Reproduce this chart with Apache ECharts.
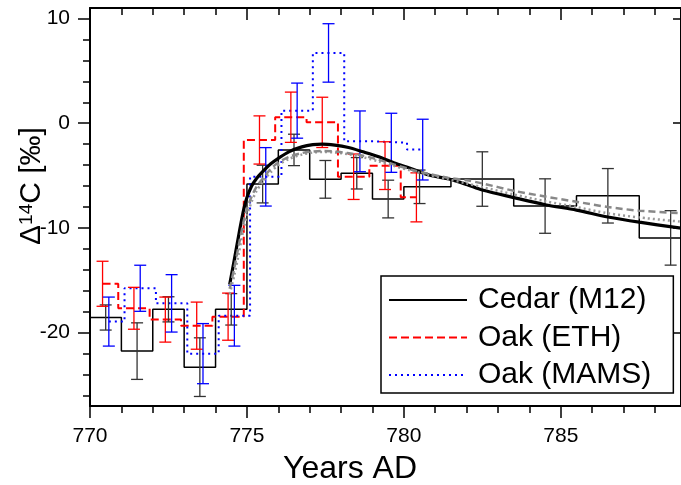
<!DOCTYPE html>
<html><head><meta charset="utf-8">
<script src="https://cdn.jsdelivr.net/npm/echarts@6/dist/echarts.min.js"></script>
<style>html,body{margin:0;padding:0;background:#fff}#c{width:681px;height:485px}</style>
</head><body><div id="c"></div>
<script>
// ---- data ----
const cedarYears = [770.5, 771.5, 772.5, 773.5, 774.5, 775.5, 776.5, 777.5, 778.5, 779.5, 780.5, 782.5, 784.5, 786.5, 788.5];
const cedarVals  = [-18.55, -21.76, -17.77, -23.29, -17.77, -5.81, -2.55, -5.36, -4.78, -7.24, -6.07, -5.33, -7.91, -6.93, -10.95];
const cedarErr   = [1.2, 2.7, 1.2, 2.8, 1.5, 1.8, 1.5, 1.8, 1.5, 1.8, 1.6, 2.6, 2.6, 2.6, 2.6];

const ethYears = [770.4, 771.4, 772.4, 773.4, 774.4, 775.4, 776.4, 777.4, 778.4, 779.4, 780.4];
const ethVals  = [-15.33, -17.67, -18.75, -19.33, -18.47, -1.6, 0.57, 0.08, -5.11, -4.05, -7.08];
const ethErr   = [2.15, 2.0, 2.15, 2.25, 2.25, 2.3, 2.4, 2.4, 2.17, 2.28, 2.34];

const mamsYears = [770.6, 771.6, 772.6, 773.6, 774.6, 775.6, 776.6, 777.6, 778.6, 779.6, 780.6];
const mamsVals  = [-18.94, -15.76, -17.2, -22.0, -18.38, -5.12, 1.2, 6.71, -1.73, -1.87, -2.52];
const mamsErr   = [2.34, 2.2, 2.74, 2.87, 2.9, 2.79, 2.63, 2.79, 2.9, 2.82, 2.9];

const modelYears  = [774.45, 774.6, 774.75, 774.9, 775.0, 775.15, 775.3, 775.5, 775.75, 776.0, 776.35, 776.75, 777.1, 777.4, 777.8, 778.2, 778.7, 779.2, 779.7, 780.2, 780.8, 781.4, 782.0, 782.5, 783.5, 784.5, 785.5, 786.5, 787.5, 788.83];
const modelBlack  = [-15.4, -13.0, -10.5, -8.2, -7.1, -6.0, -5.3, -4.63, -3.9, -3.35, -2.71, -2.26, -2.05, -2.0, -2.1, -2.3, -2.73, -3.2, -3.8, -4.3, -4.95, -5.3, -5.85, -6.38, -7.1, -7.78, -8.3, -8.95, -9.45, -10.02];
const modelDashed = [-15.8, -13.8, -11.5, -9.3, -8.2, -7.0, -6.1, -5.3, -4.4, -3.75, -3.2, -2.85, -2.7, -2.65, -2.7, -2.85, -3.1, -3.5, -3.95, -4.4, -4.85, -5.2, -5.45, -5.75, -6.45, -7.0, -7.5, -8.0, -8.35, -8.6];
const modelDotted = [-16.3, -14.5, -12.3, -10.0, -8.8, -7.5, -6.5, -5.6, -4.7, -4.0, -3.4, -3.0, -2.8, -2.75, -2.8, -2.95, -3.25, -3.65, -4.1, -4.5, -4.95, -5.35, -5.75, -6.1, -6.8, -7.45, -8.0, -8.6, -9.0, -9.4];

const xMajorTicks = [770, 775, 780, 785];
const xMinorTicks = [771, 772, 773, 774, 776, 777, 778, 779, 781, 782, 783, 784, 786, 787, 788];
const yMajorTicks = [-20, -10, 0, 10];
const yMinorTicks = [-26, -24, -22, -18, -16, -14, -12, -8, -6, -4, -2, 2, 4, 6, 8];

const seriesNames = ['Cedar (M12)', 'Oak (ETH)', 'Oak (MAMS)'];

// ---- helpers ----
const FONT = "'Liberation Sans', Arial, sans-serif";
function stepPoints(xs, ys, extend) {
  const pts = [], n = xs.length;
  for (let i = 0; i < n; i++) {
    const left = i === 0 ? (extend ? xs[0] - (xs[1] - xs[0]) / 2 : xs[0]) : (xs[i - 1] + xs[i]) / 2;
    const right = i === n - 1 ? (extend ? xs[n - 1] + (xs[n - 1] - xs[n - 2]) / 2 : xs[n - 1]) : (xs[i] + xs[i + 1]) / 2;
    pts.push([left, ys[i]], [right, ys[i]]);
  }
  return pts;
}
function errSeries(name, xs, ys, es, color) {
  return {
    type: 'custom', name: name, silent: true, z: 3,
    data: xs.map((x, i) => [x, ys[i] - es[i], ys[i] + es[i]]),
    encode: { x: 0, y: [1, 2] },
    renderItem: function (params, api) {
      const lo = api.coord([api.value(0), api.value(1)]);
      const hi = api.coord([api.value(0), api.value(2)]);
      const w = 6;
      const st = { stroke: color, lineWidth: 1.3, fill: null };
      return { type: 'group', children: [
        { type: 'line', shape: { x1: lo[0], y1: lo[1], x2: hi[0], y2: hi[1] }, style: st },
        { type: 'line', shape: { x1: lo[0] - w, y1: lo[1], x2: lo[0] + w, y2: lo[1] }, style: st },
        { type: 'line', shape: { x1: hi[0] - w, y1: hi[1], x2: hi[0] + w, y2: hi[1] }, style: st }
      ]};
    }
  };
}
function zip(xs, ys) { return xs.map((x, i) => [x, ys[i]]); }

const XMIN = 770, XMAX = 788.83, YMIN = -27, YMAX = 11;
function xAx(pos, ticks, len, inside, line, labels) {
  return {
    type: 'value', position: pos, min: XMIN, max: XMAX,
    axisLine: { show: line, onZero: false, lineStyle: { color: '#000', width: 2 } },
    axisTick: { show: true, inside: inside, length: len, customValues: ticks, lineStyle: { color: '#000', width: 1.5 } },
    axisLabel: labels ? { show: true, customValues: labels, fontSize: 21, color: '#000', fontFamily: FONT, margin: 20 } : { show: false },
    splitLine: { show: false }
  };
}
function yAx(pos, ticks, len, inside, line, labels) {
  return {
    type: 'value', position: pos, min: YMIN, max: YMAX,
    axisLine: { show: line, onZero: false, lineStyle: { color: '#000', width: 2 } },
    axisTick: { show: true, inside: inside, length: len, customValues: ticks, lineStyle: { color: '#000', width: 1.5 } },
    axisLabel: labels ? { show: true, customValues: labels, fontSize: 21, color: '#000', fontFamily: FONT, margin: 20 } : { show: false },
    splitLine: { show: false }
  };
}

const chart = echarts.init(document.getElementById('c'));
chart.setOption({
  animation: false,
  backgroundColor: '#fff',
  grid: { left: 90, top: 8, width: 593, height: 398, containLabel: false },
  xAxis: [
    xAx('bottom', xMajorTicks, 12, false, true, xMajorTicks),
    xAx('bottom', xMinorTicks, 7, false, false, null),
    xAx('top', xMajorTicks, 12, true, true, null),
    xAx('top', xMinorTicks, 7, true, false, null)
  ],
  yAxis: [
    yAx('left', yMajorTicks, 12, false, true, yMajorTicks),
    yAx('left', yMinorTicks, 7, false, false, null),
    yAx('right', yMajorTicks, 8, true, true, null)
  ],
  legend: {
    data: seriesNames, orient: 'vertical', left: 381, top: 276,
    padding: [7, 22, 1, 7], itemGap: 3.5, itemWidth: 78, itemHeight: 14,
    borderColor: '#000', borderWidth: 1.5, backgroundColor: '#fff',
    textStyle: { fontSize: 30, color: '#000', fontFamily: FONT, lineHeight: 34, padding: [0, 0, 0, 6] },
    selectedMode: false
  },
  graphic: [
    { type: 'text', x: 350, y: 469, silent: true,
      style: { text: 'Years AD', fontSize: 32, fontFamily: FONT, fill: '#000', align: 'center', verticalAlign: 'middle', textAlign: 'center', textVerticalAlign: 'middle' } },
    { type: 'text', x: 32, y: 186, rotation: Math.PI / 2, silent: true,
      style: { text: '{n|Δ}{s|14}{n|C [‰]}', fill: '#000', align: 'center', verticalAlign: 'middle', textAlign: 'center', textVerticalAlign: 'middle',
        rich: { n: { fontSize: 30, fontFamily: FONT, fill: '#000' }, s: { fontSize: 19, fontFamily: FONT, fill: '#000', verticalAlign: 'top' } } } }
  ],
  series: [
    { type: 'line', name: seriesNames[0], data: stepPoints(cedarYears, cedarVals, true), symbol: 'none', clip: true, z: 2,
      lineStyle: { color: '#000', width: 1.5 }, itemStyle: { color: 'transparent', borderWidth: 0 } },
    { type: 'line', name: seriesNames[1], data: stepPoints(ethYears, ethVals, false), symbol: 'none', clip: true, z: 2,
      lineStyle: { color: '#ff0000', width: 2, type: [8, 4] }, itemStyle: { color: 'transparent', borderWidth: 0 } },
    { type: 'line', name: seriesNames[2], data: stepPoints(mamsYears, mamsVals, false), symbol: 'none', clip: true, z: 2,
      lineStyle: { color: '#0000ff', width: 2, type: [2, 4] }, itemStyle: { color: 'transparent', borderWidth: 0 } },
    errSeries('cedarErr', cedarYears, cedarVals, cedarErr, '#333'),
    errSeries('ethErr', ethYears, ethVals, ethErr, '#ff0000'),
    errSeries('mamsErr', mamsYears, mamsVals, mamsErr, '#0000ff'),
    { type: 'line', name: 'model', data: zip(modelYears, modelBlack), symbol: 'none', smooth: 0.3, clip: true, z: 4,
      lineStyle: { color: '#000', width: 3.2 } },
    { type: 'line', name: 'model dotted', data: zip(modelYears, modelDotted), symbol: 'none', smooth: 0.3, clip: true, z: 5,
      lineStyle: { color: '#9a9a9a', width: 2.5, type: [2, 3] } },
    { type: 'line', name: 'model dashed', data: zip(modelYears, modelDashed), symbol: 'none', smooth: 0.3, clip: true, z: 6,
      lineStyle: { color: '#888', width: 2.5, type: [7, 4] } }
  ]
});
</script>
</body></html>
